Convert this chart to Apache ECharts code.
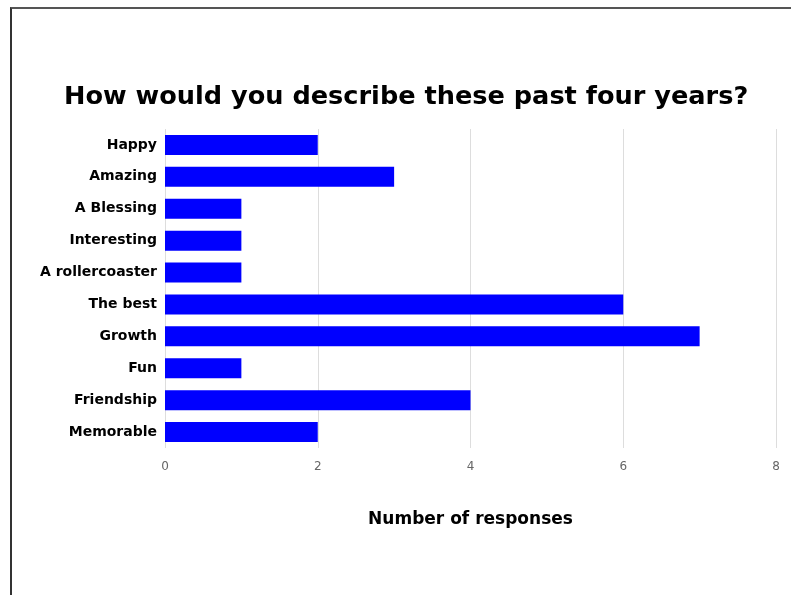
<!DOCTYPE html>
<html>
<head>
<meta charset="utf-8">
<script src="https://cdn.jsdelivr.net/npm/echarts@6/dist/echarts.min.js"></script>
<style>
  html, body { margin: 0; padding: 0; background: #fff; }
  #frame {
    position: absolute; left: 10px; top: 7px; width: 781px; height: 588px;
    border-left: 2px solid #333; border-top: 2px solid #555; box-sizing: border-box;
  }
  #chart { position: absolute; left: 0; top: 0; width: 791px; height: 595px; }
</style>
</head>
<body>
<div id="frame"></div>
<div id="chart"></div>
<script>
const categories = ['Happy', 'Amazing', 'A Blessing', 'Interesting', 'A rollercoaster', 'The best', 'Growth', 'Fun', 'Friendship', 'Memorable']
const responses = [2, 3, 1, 1, 1, 6, 7, 1, 4, 2]
const xTicks = [0, 2, 4, 6, 8]

var myChart = echarts.init(document.getElementById('chart'))

var option = {
  backgroundColor: 'transparent',
  animation: false,
  title: {
    text: 'How would you describe these past four years?',
    left: 59,
    top: 79,
    textStyle: {
      fontFamily: 'DejaVu Sans',
      fontWeight: 'bold',
      fontSize: 25.6,
      color: '#000',
    },
  },
  grid: {
    left: 165,
    right: 15,
    top: 129,
    bottom: 147,
  },
  xAxis: {
    type: 'value',
    min: xTicks[0],
    max: xTicks[xTicks.length - 1],
    interval: 2,
    name: 'Number of responses',
    nameLocation: 'middle',
    nameGap: 63,
    nameTextStyle: {
      fontFamily: 'DejaVu Sans',
      fontWeight: 'bold',
      fontSize: 17,
      color: '#000',
    },
    axisLine: { show: false },
    axisTick: { show: false },
    axisLabel: {
      margin: 13,
      fontFamily: 'DejaVu Sans',
      fontSize: 12,
      color: '#666',
    },
    splitLine: {
      show: true,
      lineStyle: { color: '#ddd', width: 1 },
    },
  },
  yAxis: {
    type: 'category',
    inverse: true,
    data: categories,
    axisLine: { show: false },
    axisTick: { show: false },
    axisLabel: {
      margin: 8,
      fontFamily: 'DejaVu Sans',
      fontWeight: 'bold',
      fontSize: 14,
      color: '#000',
    },
  },
  series: [
    {
      type: 'bar',
      data: responses,
      barWidth: 20,
      itemStyle: {
        color: '#0000ff',
      },
    },
  ],
}

option && myChart.setOption(option)
</script>
</body>
</html>
